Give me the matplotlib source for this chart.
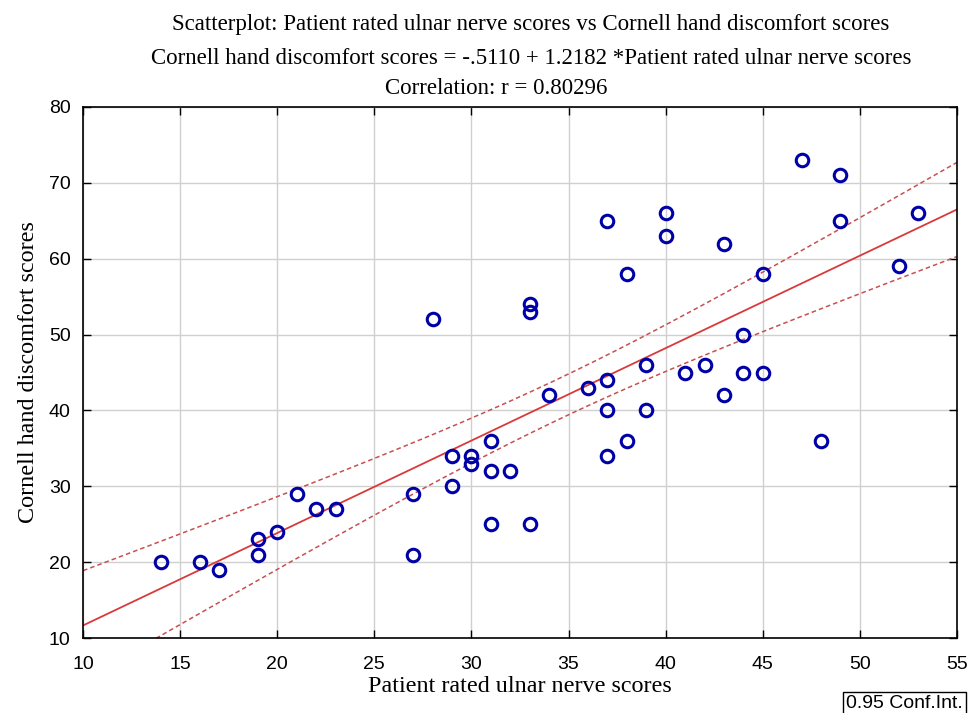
import numpy as np
import matplotlib
matplotlib.use("Agg")
import matplotlib.pyplot as plt

# Data
ulnar = [14, 16, 17, 19, 19, 20, 21, 22, 23, 27, 27, 28, 29, 29, 30, 30, 31, 31, 31, 32,
         33, 33, 33, 34, 36, 37, 37, 37, 37, 38, 38, 39, 39, 40, 40, 41, 42, 43, 43, 44,
         44, 45, 45, 47, 48, 49, 49, 52, 53]
cornell = [20, 20, 19, 23, 21, 24, 29, 27, 27, 29, 21, 52, 34, 30, 34, 33, 36, 32, 25, 32,
           54, 53, 25, 42, 43, 65, 44, 40, 34, 58, 36, 46, 40, 66, 63, 45, 46, 62, 42, 50,
           45, 58, 45, 73, 36, 71, 65, 59, 66]
intercept = -0.5110
slope = 1.2182
conf_level = 0.95

title_lines = ["Scatterplot: Patient rated ulnar nerve scores vs Cornell hand discomfort scores",
               "Cornell hand discomfort scores = -.5110 + 1.2182 *Patient rated ulnar nerve scores",
               "Correlation: r = 0.80296"]
xlabel = "Patient rated ulnar nerve scores"
ylabel = "Cornell hand discomfort scores"
xticks = [10, 15, 20, 25, 30, 35, 40, 45, 50, 55]
yticks = [10, 20, 30, 40, 50, 60, 70, 80]

x = np.array(ulnar, float)
y = np.array(cornell, float)
n = len(x)
resid = y - (intercept + slope * x)
s = np.sqrt(np.sum(resid ** 2) / (n - 2))
xbar = x.mean()
sxx = np.sum((x - xbar) ** 2)
tval = 2.0117  # t(0.975, 47)

xs = np.linspace(xticks[0], xticks[-1], 200)
yhat = intercept + slope * xs
half = tval * s * np.sqrt(1.0 / n + (xs - xbar) ** 2 / sxx)

fig = plt.figure(figsize=(9.77, 7.13), dpi=100)
ax = fig.add_axes([0.085, 0.105, 0.8945, 0.745])

ax.grid(True, color="#d0d0d0", linewidth=1.0)
ax.set_axisbelow(True)
red = "#d83a3a"
ax.plot(xs, yhat, color=red, linewidth=1.3, zorder=2)
ax.plot(xs, yhat + half, color="#c85050", linewidth=1.1, linestyle=(0, (3, 2)), zorder=2)
ax.plot(xs, yhat - half, color="#c85050", linewidth=1.1, linestyle=(0, (3, 2)), zorder=2)
ax.plot(x, y, linestyle="none", marker="o", markersize=9, markerfacecolor="none",
        markeredgecolor="#0000a8", markeredgewidth=2.2, zorder=3)

ax.set_xlim(xticks[0], xticks[-1])
ax.set_ylim(yticks[0], yticks[-1])
ax.set_xticks(xticks)
ax.set_yticks(yticks)
ax.tick_params(direction="in", top=True, right=True, length=6, width=1, labelsize=14)
ax.tick_params(axis="x", pad=13)
ax.tick_params(axis="y", pad=9)
for lab in ax.get_xticklabels() + ax.get_yticklabels():
    lab.set_fontfamily("Liberation Sans")
for sp in ax.spines.values():
    sp.set_linewidth(1.2)

ax.set_xlabel(xlabel, family="Liberation Serif", fontsize=17.4, labelpad=2)
ax.set_ylabel(ylabel, family="Liberation Serif", fontsize=17.4, labelpad=7)

title_pos = [(0.5435, 0.965), (0.5435, 0.918), (0.508, 0.876)]
for t, (xx, yy) in zip(title_lines, title_pos):
    fig.text(xx, yy, t, ha="center", va="center", family="Liberation Serif", fontsize=16.5)

fig.text(0.866, 0.0255, "%.2f Conf.Int." % conf_level, ha="left", va="top",
         family="Liberation Sans", fontsize=14,
         bbox=dict(boxstyle="square,pad=0.15", facecolor="white", edgecolor="black", linewidth=1))

fig.savefig("out.png", dpi=100)
